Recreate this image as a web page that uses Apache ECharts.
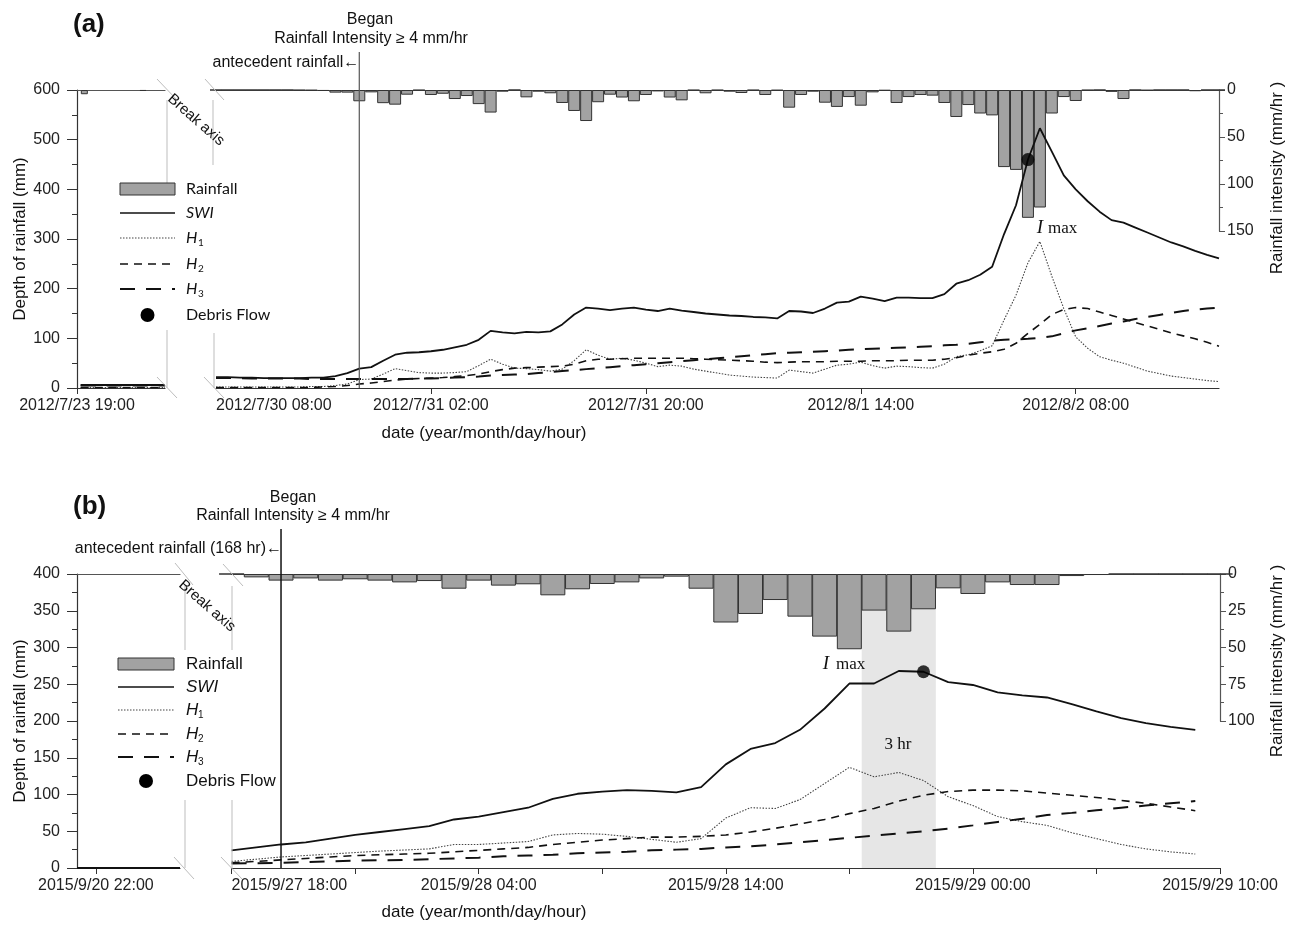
<!DOCTYPE html>
<html><head><meta charset="utf-8">
<script src="https://cdn.jsdelivr.net/npm/echarts@6/dist/echarts.min.js"></script>
<style>html,body{margin:0;padding:0;background:#fff}#c{width:1293px;height:927px}</style>
</head><body><div id="c"></div>
<script>
// ---------------- DATA (panel a: hourly from 2012/7/30 08:00) ----------------
const aRain = [0,0,0,0,0,0,0,0.3,0.5,1,2.8,2.8,12,2.5,14,15.6,5,0.3,5.3,4,9.6,6.4,15,24,1.8,0,7.8,1.8,3.5,13.8,22.3,33,13,5,8,12,5.3,1.5,8,11,0.3,3.5,0.3,1.8,3.2,0.3,5.3,0.5,18.8,5.3,1.8,13.5,18,7.5,16.7,2.5,0.7,13.8,7.5,5.3,6,13.8,28.7,16,25,27,82,85,136,125,25,7.5,11.7,0.3,0,2,9.6,0,0.5,0,0,0,1.3,0,0];
const aSWI = [22,22,21,21,20,20,20,20,21,21,24,30,39,42,55,67,71,72,74,77,82,87,97,115,112,110,113,112,114,128,148,162,160,157,160,162,158,155,160,156,153,150,148,146,145,143,142,140,155,154,151,160,172,174,184,180,175,182,182,181,181,189,210,217,228,244,310,368,460,523,476,428,400,376,355,338,333,323,313,303,293,285,276,268,261];
const aH1 = [2,2,2,2,2,2,2,2,3,3,5,8,17,18,28,39,35,31,30,30,31,33,45,58,48,40,39,37,34,38,55,77,66,58,60,56,50,43,46,44,38,34,30,26,24,22,21,20,36,33,30,38,46,48,52,45,40,44,43,41,40,48,63,67,75,85,137,187,252,295,225,160,103,80,63,56,50,42,34,29,24,21,18,15,13];
const aH2 = [1,1,1,1,1,1,1,1,1,2,3,5,8,10,13,16,18,19,20,21,23,25,28,33,37,40,41,42,43,44,48,55,58,58,59,60,60,60,60,60,59,58,57,56,55,54,52,51,52,53,53,53,54,54,54,55,55,55,56,56,56,58,61,66,70,73,78,90,110,128,148,158,162,160,153,146,139,132,125,118,111,105,99,92,84];
const aH3 = [20,20,20,19,19,19,19,19,18,18,18,18,18,18,18,18,18,19,19,20,21,22,23,25,26,27,28,30,32,34,36,38,40,42,44,46,48,50,52,54,56,58,60,62,64,66,68,70,71,72,73,74,75,77,78,79,80,81,82,83,84,86,87,89,92,95,97,98,99,101,104,110,116,120,125,130,134,139,143,147,151,155,158,160,162];
const aDebris = [[68, 460]];
const aBeganHour = 12;
const aTickHours = [18, 36, 54, 72];
const aLabelHours = [0, 18, 36, 54, 72];
const aTickLabels = ['2012/7/30 08:00','2012/7/31 02:00','2012/7/31 20:00','2012/8/1 14:00','2012/8/2 08:00'];
// antecedent (break) panel a
const aSmallRainX = [1, 9];
const aSmallRain = [4.5, 1];
const aSmallX = [0.5, 12];
const aSmallSWI = [6, 6];
const aSmallH1 = [1, 1];
const aSmallH2 = [1, 1];
const aSmallH3 = [5, 5];
const aSmallLabel = ['2012/7/23 19:00'];

// ---------------- DATA (panel b: hourly from 2015/9/27 18:00) ----------------
const bRain = [0,2.3,4.5,3,4.5,3.6,4.5,5.7,4.8,10,4.5,7.9,7,14.5,10.4,6.8,5.7,3,1.8,10,33,27.2,17.7,29,42.6,51.2,24.9,39.2,24,9.75,13.6,5.7,7.5,7.5,1.4,0.7,0,0,0,0,0];
const bSWI = [24,28,32,35,40,45,49,53,57,66,70,76,82,94,101,104,106,105,103,110,141,162,170,188,217,251,251,268,267,253,249,239,235,232,223,213,204,197,192,188];
const bH1 = [9,12,15,17,19,21,23,24.5,26,32,32,34,36,45,47,46,43,39,35,40,68,82,81,93,115,137,124,130,119,97,85,70,63,58,48,40,32,26,22,19];
const bH2 = [7,9,11,13,15,17,18,19,20,22,24,26,28,32,35,38,40,42,42,43,45,49,54,60,66,74,81,91,99,104,106,106,105,102,99,96,92,88,83,78];
const bH3 = [6,6.5,7,8,9,10,10.5,11,12,13,14,16,17,18,20,21,22,24,25,26,28,29.5,32,35,38,41,44,47,50,53.5,58,62.6,67,72,75,78.5,82,85,88,91];
const bDebris = [[28, 267]];
const bBeganHour = 2;
const bShade = [25.5, 28.5];
const bTickHours = [0,5,10,15,20,25,30,35,40];
const bLabelHours = [0,10,20,30,40];
const bTickLabels = ['2015/9/27 18:00','2015/9/28 04:00','2015/9/28 14:00','2015/9/29 00:00','2015/9/29 10:00'];
const bSmallX = [0, 12];
const bSmallZero = [0, 0];
const bSmallLabelAt = [2.2];
const bSmallLabel = ['2015/9/20 22:00'];

// ---------------- STYLES ----------------
const SANS = 'Liberation Sans, Arial, sans-serif';
const SERIF = 'Liberation Serif, Times New Roman, serif';
const AX = '#333';
const BARFILL = '#a2a2a2';
const ST = {
  SWI: {color:'#111', width:1.8, type:'solid'},
  H1: {color:'#444', width:1.1, type:[1.5,1.5]},
  H2: {color:'#111', width:1.6, type:[8,6]},
  H3: {color:'#111', width:2, type:[15,11]}
};
const idx = arr => arr.map((v,i)=>[i,v]);
const pair = (xs, ys) => xs.map((x,i)=>[x, ys[i]]);

function line(name, data, xi, yi, st) {
  return {type:'line', name, data, xAxisIndex:xi, yAxisIndex:yi, symbol:'none', showSymbol:false,
    lineStyle:{color:st.color, width:st.width, type:st.type}, z:6, silent:true};
}
function bars(data, xi, yi, w) {
  return {type:'bar', data, xAxisIndex:xi, yAxisIndex:yi, barWidth:w, z:4, silent:true,
    itemStyle:{color:BARFILL, borderColor:'#333', borderWidth:1}};
}
function topLine(gi, max) {
  return {gridIndex:gi, type:'value', min:0, max:max, position:'top',
    axisLine:{show:true, onZero:false, lineStyle:{color:'#555', width:1.2}},
    axisTick:{show:false}, axisLabel:{show:false}, splitLine:{show:false}};
}
function hiddenY(gi, max, inv) {
  return {gridIndex:gi, type:'value', min:0, max:max, inverse:!!inv, show:false, splitLine:{show:false}};
}
function leftY(gi, max, interval) {
  return {gridIndex:gi, type:'value', min:0, max:max, interval:interval, position:'left',
    axisLine:{show:true, lineStyle:{color:AX, width:1.2}},
    axisTick:{show:true, length:10, lineStyle:{color:AX}},
    minorTick:{show:true, splitNumber:2, length:5, lineStyle:{color:AX}},
    axisLabel:{fontSize:16, color:'#222', margin:17, fontFamily:SANS},
    splitLine:{show:false}, minorSplitLine:{show:false},
    name:'Depth of rainfall (mm)', nameLocation:'middle', nameGap:48,
    nameTextStyle:{fontSize:17, color:'#111', fontFamily:SANS}};
}
function rightY(gi, max, interval) {
  return {gridIndex:gi, type:'value', min:0, max:max, interval:interval, inverse:true, position:'right',
    axisLine:{show:true, onZero:false, lineStyle:{color:'#555', width:1.2}},
    axisTick:{show:true, length:6, lineStyle:{color:'#555'}},
    minorTick:{show:true, splitNumber:2, length:4, lineStyle:{color:'#555'}},
    axisLabel:{fontSize:16, color:'#222', margin:8, fontFamily:SANS},
    splitLine:{show:false}, minorSplitLine:{show:false}};
}
function bottomX(gi, max, ticks, labelVals, labels, alignMin) {
  return {gridIndex:gi, type:'value', min:0, max:max, position:'bottom',
    axisLine:{show:true, onZero:false, lineStyle:{color:AX, width:1.2}},
    axisTick:{show:true, length:6, customValues:ticks, lineStyle:{color:AX}},
    axisLabel:{customValues:labelVals, fontSize:16, color:'#222', margin:10, fontFamily:SANS,
      alignMinLabel:alignMin, alignMaxLabel:'center',
      formatter: v => { const k = labelVals.indexOf(v); return k >= 0 ? labels[k] : ''; }},
    splitLine:{show:false}};
}

const grid = [
  {left:77, top:90, width:88, height:298},     // 0 a small lines
  {left:77, top:90, width:88, height:141},     // 1 a small bars
  {left:216, top:90, width:1003, height:298},  // 2 a main lines
  {left:216, top:90, width:1003, height:141},  // 3 a main bars
  {left:77, top:574, width:103, height:294},   // 4 b small
  {left:231.6, top:574, width:988.4, height:294}, // 5 b main lines
  {left:231.6, top:574, width:988.4, height:147}  // 6 b main bars
];
const xAxis = [
  bottomX(0, 12, [0], [0], aSmallLabel, 'center'),
  topLine(1, 12),
  bottomX(2, 84, aTickHours, aLabelHours, aTickLabels, 'left'),
  topLine(3, 84),
  bottomX(4, 12, bSmallLabelAt, bSmallLabelAt, bSmallLabel, 'center'),
  topLine(4, 12),
  bottomX(5, 40, bTickHours, bLabelHours, bTickLabels, 'left'),
  topLine(6, 40)
];
const yAxis = [
  leftY(0, 600, 100),
  hiddenY(1, 150, true),
  hiddenY(2, 600),
  rightY(3, 150, 50),
  leftY(4, 400, 50),
  hiddenY(5, 400),
  rightY(6, 100, 25)
];

const series = [
  bars(pair(aSmallRainX, aSmallRain), 1, 1, 7),
  line('SWI', pair(aSmallX, aSmallSWI), 0, 0, ST.SWI),
  line('H1', pair(aSmallX, aSmallH1), 0, 0, ST.H1),
  line('H2', pair(aSmallX, aSmallH2), 0, 0, ST.H2),
  line('H3', pair(aSmallX, aSmallH3), 0, 0, ST.H3),
  bars(idx(aRain), 3, 3, 12),
  line('SWI', idx(aSWI), 2, 2, ST.SWI),
  line('H1', idx(aH1), 2, 2, ST.H1),
  line('H2', idx(aH2), 2, 2, ST.H2),
  line('H3', idx(aH3), 2, 2, ST.H3),
  {type:'scatter', data:aDebris, xAxisIndex:2, yAxisIndex:2, symbolSize:13, itemStyle:{color:'#000'}, z:8, silent:true},
  line('SWI', pair(bSmallX, bSmallZero), 4, 4, ST.SWI),
  {type:'line', data:[[0,null]], xAxisIndex:6, yAxisIndex:5, z:1, silent:true, symbol:'none',
    markArea:{silent:true, itemStyle:{color:'#e6e6e6'}, data:[[{xAxis:bShade[0]},{xAxis:bShade[1]}]]}},
  bars(idx(bRain), 7, 6, 25),
  line('SWI', idx(bSWI), 6, 5, ST.SWI),
  line('H1', idx(bH1), 6, 5, ST.H1),
  line('H2', idx(bH2), 6, 5, ST.H2),
  line('H3', idx(bH3), 6, 5, ST.H3),
  {type:'scatter', data:bDebris, xAxisIndex:6, yAxisIndex:5, symbolSize:13, itemStyle:{color:'#000'}, z:8, silent:true}
];

const chart = echarts.init(document.getElementById('c'), null, {renderer:'canvas'});
chart.setOption({animation:false, backgroundColor:'#fff', grid, xAxis, yAxis, series});

// ---------------- ANNOTATIONS ----------------
function T(x, y, text, o) {
  o = o || {};
  return {type:'text', x, y, rotation:o.rot || 0, z:20, silent:true,
    style:{text, fontSize:o.size || 16, fontFamily:o.font || SANS, fontWeight:o.weight || 'normal',
      fontStyle:o.style || 'normal', fill:o.fill || '#111', align:o.align || 'left', verticalAlign:'middle'}};
}
function L(x1, y1, x2, y2, o) {
  o = o || {};
  return {type:'line', z:20, silent:true, shape:{x1, y1, x2, y2},
    style:{stroke:o.stroke || '#111', lineWidth:o.w || 1, lineDash:o.dash || null}};
}
function legend(x0, x1, tx, rows, font, size, rectY) {
  const g = [];
  g.push({type:'rect', z:20, silent:true, shape:{x:x0, y:rectY, width:x1-x0, height:12},
    style:{fill:BARFILL, stroke:'#333', lineWidth:1}});
  g.push(T(tx, rows[0], 'Rainfall', {font, size}));
  g.push(L(x0, rows[1], x1, rows[1], {w:1.6}));
  g.push(T(tx, rows[1], 'SWI', {font, size, style:'italic'}));
  const st = [ST.H1, ST.H2, ST.H3];
  for (let k = 0; k < 3; k++) {
    const y = rows[2+k];
    g.push(L(x0, y, x1, y, {w:st[k].width, dash:st[k].type, stroke:st[k].color}));
    g.push(T(tx, y, 'H', {font, size, style:'italic'}));
    g.push(T(tx + 12, y + 5, String(k+1), {font, size:10}));
  }
  g.push({type:'circle', z:20, silent:true, shape:{cx:(x0+x1)/2, cy:rows[5], r:7}, style:{fill:'#000'}});
  g.push(T(tx, rows[5], 'Debris Flow', {font, size}));
  return g;
}
const GR = '#bdbdbd';
const axBx = chart.convertToPixel({xAxisIndex:2}, aBeganHour);
const bxBx = chart.convertToPixel({xAxisIndex:6}, bBeganHour);
const aBottom = chart.convertToPixel({yAxisIndex:2}, 0);
const bBottom = chart.convertToPixel({yAxisIndex:5}, 0);
const g = [].concat(
  [
    T(73, 25, '(a)', {size:26, weight:'bold'}),
    T(73, 507, '(b)', {size:26, weight:'bold'}),
    L(axBx, 52, axBx, aBottom, {stroke:'#555', w:1.2}),
    L(bxBx, 529, bxBx, bBottom, {stroke:'#111', w:1.5}),
    T(370, 20, 'Began', {align:'center'}),
    T(371, 39, 'Rainfall Intensity \u2265 4 mm/hr', {align:'center'}),
    T(axBx, 63, 'antecedent rainfall\u2190', {align:'right'}),
    T(293, 498, 'Began', {align:'center'}),
    T(293, 516, 'Rainfall Intensity \u2265 4 mm/hr', {align:'center'}),
    T(bxBx + 1, 549, 'antecedent rainfall (168 hr)\u2190', {align:'right'}),
    T(1277, 178, 'Rainfall intensity (mm/hr )', {size:17, rot:Math.PI/2, align:'center'}),
    T(1277, 661, 'Rainfall intensity (mm/hr )', {size:17, rot:Math.PI/2, align:'center'}),
    T(484, 433, 'date (year/month/day/hour)', {size:17, align:'center'}),
    T(484, 912, 'date (year/month/day/hour)', {size:17, align:'center'}),
    T(1040, 228, 'I', {font:SERIF, size:19, style:'italic', align:'center'}),
    T(1048, 229, 'max', {font:SERIF, size:17}),
    T(826, 664, 'I', {font:SERIF, size:19, style:'italic', align:'center'}),
    T(836, 665, 'max', {font:SERIF, size:17}),
    T(898, 745, '3 hr', {font:SERIF, size:17, align:'center'}),
    L(157, 79, 177, 100, {stroke:GR}), L(205, 79, 224, 100, {stroke:GR}),
    L(167, 100, 167, 185, {stroke:GR}), L(213, 100, 213, 165, {stroke:GR}),
    L(157, 377, 177, 398, {stroke:GR}), L(204, 377, 224, 398, {stroke:GR}),
    L(167, 330, 167, 388, {stroke:GR}), L(214, 333, 214, 388, {stroke:GR}),
    T(196, 120, 'Break axis', {size:15, rot:-0.72, align:'center'}),
    L(175, 563, 193, 585, {stroke:GR}), L(223, 564, 243, 586, {stroke:GR}),
    L(185, 585, 185, 650, {stroke:GR}), L(232, 586, 232, 650, {stroke:GR}),
    L(174, 857, 194, 879, {stroke:GR}), L(221, 857, 242, 879, {stroke:GR}),
    L(185, 800, 185, 868, {stroke:GR}), L(232, 800, 232, 868, {stroke:GR}),
    T(207, 606, 'Break axis', {size:15, rot:-0.72, align:'center'})
  ],
  legend(120, 175, 186, [189, 213, 238, 264, 289, 315], 'Lato, Liberation Sans, sans-serif', 16, 183),
  legend(118, 174, 186, [664, 687, 710, 734, 757, 781], SANS, 17, 658)
);
chart.setOption({graphic: g});
</script>
</body></html>
